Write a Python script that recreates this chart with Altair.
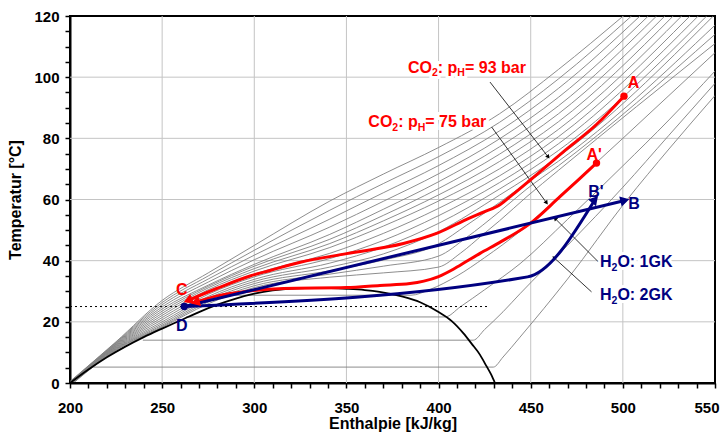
import math
import altair as alt
import pandas as pd

# ---------------- data ----------------
# saturation dome (h [kJ/kg], T [°C])
dome_h = [200, 210, 220, 230, 240, 250, 260, 270, 280, 290, 300, 310, 320, 335, 350, 360, 368, 380, 390, 400, 407, 413.4, 418, 422.5, 426, 428.5, 430.6]
dome_T = [0, 4.4, 8.4, 11.9, 15.0, 17.8, 20.5, 23.2, 25.6, 27.6, 29.2, 30.3, 30.9, 31.1, 30.8, 30.4, 29.8, 28.3, 26.4, 23.2, 20.3, 16.3, 12.8, 9.2, 5.5, 2.8, 0]

# supercritical isobars (gray), each a list of (h, T)
iso_super = {
    "150": [(200.0, 0.5), (225, 13.5), (250, 27.0), (275, 36.0), (300, 45.0), (341, 59.5), (370, 68.3), (400, 77.0), (433, 88.0), (465, 102.5), (500.2, 120)],
    "145": [(200.2, 0.5), (225, 13.3), (250, 26.3), (275, 35.0), (300, 43.4), (341, 56.5), (370, 65.2), (400, 74.0), (433, 85.2), (465, 99.4), (504.7, 120)],
    "140": [(200.4, 0.5), (225, 13.1), (250, 25.6), (275, 34.0), (300, 41.8), (341, 53.6), (370, 62.2), (400, 71.1), (433, 82.4), (465, 96.3), (509.3, 120)],
    "135": [(200.6, 0.5), (225, 12.9), (250, 24.9), (275, 33.0), (300, 40.3), (341, 51.0), (370, 59.4), (400, 68.4), (433, 79.8), (465, 93.4), (513.8, 120)],
    "130": [(200.8, 0.5), (225, 12.7), (250, 24.2), (275, 32.0), (300, 38.8), (341, 48.6), (370, 56.8), (400, 65.8), (433, 77.2), (465, 90.6), (518.3, 120)],
    "125": [(201.0, 0.5), (225, 12.5), (250, 23.5), (275, 31.6), (300, 38.2), (341, 47.0), (370, 54.8), (400, 63.6), (433, 74.8), (465, 88.0), (522.8, 120)],
    "120": [(201.2, 0.5), (225, 12.3), (250, 22.8), (275, 31.1), (300, 37.4), (341, 45.6), (370, 53.0), (400, 61.5), (433, 72.4), (465, 85.4), (527.3, 120)],
    "115": [(201.4, 0.5), (225, 12.1), (250, 22.1), (275, 30.5), (300, 36.6), (341, 44.3), (370, 51.3), (400, 59.5), (433, 70.0), (465, 82.9), (531.9, 120)],
    "110": [(201.6, 0.5), (225, 11.9), (250, 21.4), (275, 29.7), (300, 35.6), (341, 42.4), (370, 48.9), (400, 57.1), (433, 67.7), (465, 80.5), (536.4, 120)],
    "105": [(201.8, 0.5), (225, 11.7), (250, 20.7), (275, 29.0), (300, 34.7), (341, 40.7), (370, 46.6), (400, 54.7), (433, 65.5), (465, 78.2), (540.9, 120)],
    "100": [(202.0, 0.5), (225, 11.5), (250, 20.0), (275, 28.3), (300, 33.9), (341, 39.2), (370, 44.4), (400, 52.2), (433, 63.4), (465, 76.0), (545.5, 120)],
    "95": [(202.2, 0.5), (225, 11.3), (250, 19.4), (275, 27.7), (300, 33.2), (341, 37.9), (370, 42.2), (400, 49.5), (433, 61.4), (465, 74.0), (549.1, 120)],
    "90": [(202.4, 0.5), (225, 11.1), (250, 18.9), (275, 27.1), (300, 32.5), (341, 36.7), (370, 40.2), (400, 45.5), (415, 51.5), (433, 59.0), (448, 65.5), (465, 72.5), (550, 117)],
    "85": [(202.6, 0.5), (225, 10.9), (250, 18.5), (275, 26.5), (300, 31.8), (341, 35.6), (370, 38.2), (400, 41.5), (415, 47.5), (433, 56.0), (448, 63.5), (465, 71.0), (550, 114)],
    "80": [(202.8, 0.5), (225, 10.7), (250, 18.2), (275, 25.9), (300, 31.2), (341, 34.6), (370, 36.0), (400, 37.9), (412, 42.5), (424, 48.5), (433, 53.0), (448, 61.0), (465, 69.5), (550, 111)],
}

# subcritical isobars: horizontal in the dome, then superheated vapour
iso_sub = {
    "70": [(285, 28.7), (385, 28.7), (395, 30.5), (410, 35.0), (425, 41.0), (444, 49.5), (470, 63.5), (500, 80.0), (525, 94.0), (550, 108)],
    "60": [(263, 21.6), (403.5, 21.6), (412, 25.0), (425, 30.5), (444.2, 39.0), (470, 53.5), (500, 71.0), (525, 86.0), (550, 102)],
    "50": [(239.5, 14.0), (418.8, 14.0), (425, 17.5), (435, 23.3), (444.2, 29.2), (470, 45.0), (500, 64.0), (525, 81.0), (550, 98)],
    "40": [(212.6, 5.2), (429.7, 5.2), (435, 8.5), (444.2, 15.0), (470, 34.0), (502, 59.7), (525, 76.5), (550, 94)],
}

# CO2 process lines (gas cooler), from A to C and from A' to C
co2_93_h = [500.6, 485.8, 467.7, 449.6, 440, 433.3, 425, 417, 398.9, 380.9, 350.1, 325, 308.5, 297.7, 279.6, 264]
co2_93_T = [93.8, 84.6, 75.6, 66.3, 61.5, 58.3, 56.0, 54.0, 48.9, 45.6, 42.3, 39.5, 36.8, 35.0, 30.9, 27.0]
co2_75_h = [485.7, 476, 466, 449.6, 433, 422.5, 415, 408, 400, 392, 384.5, 368.2, 350.1, 315.7, 297.7, 280, 268]
co2_75_T = [71.9, 66.5, 61.0, 52.1, 45.9, 42.4, 39.7, 37.2, 34.8, 33.3, 32.5, 31.9, 31.2, 30.9, 30.1, 28.5, 26.4]

# water lines (D -> B and D -> B')
h2o_1gk_h = [262, 501.1]
h2o_1gk_T = [25, 59.7]
h2o_2gk_h = [262, 448.3, 484.9]
h2o_2gk_T = [25, 34.7, 60.0]

# state points
pt_h = [500.6, 485.7, 262]
pt_T = [93.8, 71.9, 25]
pt_col = ["red", "red", "navy"]

# point labels
lab_txt = ["A", "A'", "B", "B'", "C", "D"]
lab_h = [502.6, 480.3, 502.9, 481.2, 257.5, 257.5]
lab_T = [96.3, 72.8, 57.0, 60.8, 28.7, 17.0]
lab_col = ["red", "red", "navy", "navy", "red", "navy"]

# annotation leader lines (label -> curve)
ann_h0 = [427.9, 428.8, 486.7, 483.0]
ann_T0 = [98.4, 83.7, 39.6, 29.8]
ann_h1 = [459.5, 458.6, 463.2, 462.6]
ann_T1 = [73.9, 58.9, 53.8, 41.0]

# annotation texts, split into parts for subscripts
ann_text = [
    {"h": 383.4, "T": 101.4, "col": "red", "parts": ["CO", "2", ": p", "H", "= 93 bar"]},
    {"h": 361.9, "T": 83.6, "col": "red", "parts": ["CO", "2", ": p", "H", "= 75 bar"]},
    {"h": 487.6, "T": 37.9, "col": "navy", "parts": ["H", "2", "O: 1GK"]},
    {"h": 487.6, "T": 27.0, "col": "navy", "parts": ["H", "2", "O: 2GK"]},
]

grid_h = [250, 300, 350, 400, 450, 500]
grid_T = [20, 40, 60, 80, 100]
dotted_h = [200, 427]
dotted_T = [25, 25]
last_tick = [550]

# ---------------- layout helpers ----------------
W, H = 645, 367
XMIN, XMAX, YMIN, YMAX = 200, 550, 0, 120
px_per_h = W / (XMAX - XMIN)
px_per_T = H / (YMAX - YMIN)
FONT = "Liberation Sans"
RED = "#ff0000"
NAVY = "#000080"
colmap = {"red": RED, "navy": NAVY}

xs = alt.Scale(domain=[XMIN, XMAX], nice=False, zero=False)
ys = alt.Scale(domain=[YMIN, YMAX], nice=False, zero=False)

axis_x = alt.Axis(values=list(range(200, 551, 10)),
                  labelExpr="datum.value % 50 == 0 && datum.value < 550 ? datum.label : ''",
                  title="Enthalpie [kJ/kg]", grid=False, tickColor="black", tickWidth=1.5, tickSize=5,
                  domainColor="black", domainWidth=2, labelFont=FONT, labelFontSize=15,
                  labelFontWeight="bold", labelColor="black", labelPadding=12, labelOverlap=False,
                  titleFont=FONT, titleFontSize=16, titleFontWeight="bold", titleColor="black",
                  titlePadding=0, labelFlush=False)
axis_y = alt.Axis(values=list(range(0, 121, 5)), labelExpr="datum.value % 20 == 0 ? datum.label : ''",
                  title="Temperatur [°C]", grid=False, tickColor="black", tickWidth=1.5, tickSize=5,
                  domainColor="black", domainWidth=2, labelFont=FONT, labelFontSize=15,
                  labelFontWeight="bold", labelColor="black", labelPadding=6, labelOverlap=False,
                  titleFont=FONT, titleFontSize=16, titleFontWeight="bold", titleColor="black",
                  titlePadding=10, labelFlush=False)


def X(f="h"):
    return alt.X(f"{f}:Q", scale=xs, axis=axis_x, title="Enthalpie [kJ/kg]")


def Y(f="T"):
    return alt.Y(f"{f}:Q", scale=ys, axis=axis_y, title="Temperatur [°C]")


def angle_of(h0, T0, h1, T1):
    dx = (h1 - h0) * px_per_h
    dy = -(T1 - T0) * px_per_T
    return math.degrees(math.atan2(dx, -dy)) % 360


# ---------------- frames ----------------
iso_rows = []
for k, pts_ in list(iso_super.items()) + list(iso_sub.items()):
    for i, (h, t) in enumerate(pts_):
        iso_rows.append({"p": k, "o": i, "h": h, "T": t})
iso_df = pd.DataFrame(iso_rows)

dome_df = pd.DataFrame({"h": dome_h, "T": dome_T, "o": range(len(dome_h))})

proc_rows = []
for name, hh, tt, col in [
    ("93", co2_93_h, co2_93_T, RED),
    ("75", co2_75_h, co2_75_T, RED),
    ("1gk", h2o_1gk_h, h2o_1gk_T, NAVY),
    ("2gk", h2o_2gk_h, h2o_2gk_T, NAVY),
]:
    for i, (h, t) in enumerate(zip(hh, tt)):
        proc_rows.append({"s": name, "o": i, "h": h, "T": t, "c": col})
proc_df = pd.DataFrame(proc_rows)

heads = []
for hh, tt, col in [(co2_93_h, co2_93_T, RED), (co2_75_h, co2_75_T, RED),
                    (h2o_1gk_h, h2o_1gk_T, NAVY), (h2o_2gk_h, h2o_2gk_T, NAVY)]:
    heads.append({"h": hh[-1], "T": tt[-1], "c": col, "a": angle_of(hh[-2], tt[-2], hh[-1], tt[-1])})
heads_df = pd.DataFrame(heads)

ann_df = pd.DataFrame({"h": ann_h0, "T": ann_T0, "h2": ann_h1, "T2": ann_T1})
ann_heads = pd.DataFrame({
    "h": ann_h1, "T": ann_T1,
    "a": [angle_of(a, b, c, d) for a, b, c, d in zip(ann_h0, ann_T0, ann_h1, ann_T1)],
})

pts_df = pd.DataFrame({"h": pt_h, "T": pt_T, "c": [colmap[c] for c in pt_col]})
lab_df = pd.DataFrame({"h": lab_h, "T": lab_T, "t": lab_txt, "c": [colmap[c] for c in lab_col]})

em = {"C": .722, "O": .778, "2": .556, ":": .333, " ": .278, "p": .611, "H": .722, "=": .584,
      "9": .556, "3": .556, "7": .556, "5": .556, "b": .611, "a": .556, "r": .389, "1": .556,
      "G": .778, "K": .722}
BIG, SMALL = 16, 10.5
txt_rows = []
for a in ann_text:
    dx = 0.0
    n = len(a["parts"])
    for j, part in enumerate(a["parts"]):
        is_sub = (n == 5 and j in (1, 3)) or (n == 3 and j == 1)
        fs = SMALL if is_sub else BIG
        txt_rows.append({"h": a["h"], "T": a["T"], "t": part, "dx": dx, "dy": 3.5 if is_sub else 0,
                         "fs": fs, "c": colmap[a["col"]]})
        dx += sum(em.get(ch, .6) for ch in part) * fs

# ---------------- layers ----------------
gridx = alt.Chart(pd.DataFrame({"h": grid_h})).mark_rule(color="#c4c4c4", strokeWidth=1).encode(x=X("h"))
gridy = alt.Chart(pd.DataFrame({"T": grid_T})).mark_rule(color="#c4c4c4", strokeWidth=1).encode(y=Y("T"))

iso = alt.Chart(iso_df).mark_line(color="#808080", strokeWidth=0.9, clip=True, interpolate="monotone").encode(
    x=X(), y=Y(), detail="p:N", order="o:Q")

dome = alt.Chart(dome_df).mark_line(color="black", strokeWidth=1.8, interpolate="monotone").encode(
    x=X(), y=Y(), order="o:Q")

dotted = alt.Chart(pd.DataFrame({"h": dotted_h, "T": dotted_T})).mark_line(
    color="black", strokeWidth=1, strokeDash=[2, 3]).encode(x=X(), y=Y())

proc = alt.Chart(proc_df).mark_line(strokeWidth=3, interpolate="monotone").encode(
    x=X(), y=Y(), detail="s:N", order="o:Q", color=alt.Color("c:N", scale=None))

proc_heads = alt.Chart(heads_df).mark_point(shape="triangle-up", filled=True, size=110, opacity=1).encode(
    x=X(), y=Y(), color=alt.Color("c:N", scale=None), angle=alt.Angle("a:Q", scale=None))

ann_lines_l = alt.Chart(ann_df).mark_rule(color="black", strokeWidth=0.8).encode(
    x=X(), y=Y(), x2="h2:Q", y2="T2:Q")
ann_heads_l = alt.Chart(ann_heads).mark_point(shape="triangle-up", filled=True, size=22, color="black",
                                              opacity=1).encode(
    x=X(), y=Y(), angle=alt.Angle("a:Q", scale=None))

pts = alt.Chart(pts_df).mark_circle(size=55, opacity=1).encode(
    x=X(), y=Y(), color=alt.Color("c:N", scale=None))

labs = alt.Chart(lab_df).mark_text(font=FONT, fontSize=16, fontWeight="bold", align="left",
                                   baseline="alphabetic").encode(
    x=X(), y=Y(), text="t:N", color=alt.Color("c:N", scale=None))

# last x tick label, nudged left so it stays inside the page
last_lab = alt.Chart(pd.DataFrame({"h": last_tick, "T": [0], "t": [str(v) for v in last_tick]})).mark_text(
    font=FONT, fontSize=15, fontWeight="bold", align="center", baseline="alphabetic", dx=-8, dy=30,
    color="black").encode(x=X(), y=Y(), text="t:N")

text_layers = []
for r in txt_rows:
    d = pd.DataFrame([r])
    text_layers.append(alt.Chart(d).mark_text(font=FONT, fontWeight="bold", align="left",
                                              baseline="alphabetic", fontSize=r["fs"], dx=r["dx"],
                                              dy=r["dy"], stroke="white", strokeWidth=6,
                                              color="white").encode(x=X(), y=Y(), text="t:N"))
for r in txt_rows:
    d = pd.DataFrame([r])
    text_layers.append(alt.Chart(d).mark_text(font=FONT, fontWeight="bold", align="left",
                                              baseline="alphabetic", fontSize=r["fs"], dx=r["dx"],
                                              dy=r["dy"], color=r["c"]).encode(x=X(), y=Y(), text="t:N"))

chart = alt.layer(
    gridx, gridy, iso, dome, dotted, ann_lines_l, ann_heads_l, proc, proc_heads, pts,
    *text_layers, labs, last_lab
).properties(
    width=W, height=H, padding={"left": 62, "top": 8, "right": 5, "bottom": 49},
    autosize=alt.AutoSizeParams(type="none"),
).configure(
    background="white",
    view=alt.ViewConfig(stroke="black", strokeWidth=2),
    axis=alt.AxisConfig(labelOverlap=False),
)

chart.save("out.html", embed_options={"renderer": "svg", "actions": False})
